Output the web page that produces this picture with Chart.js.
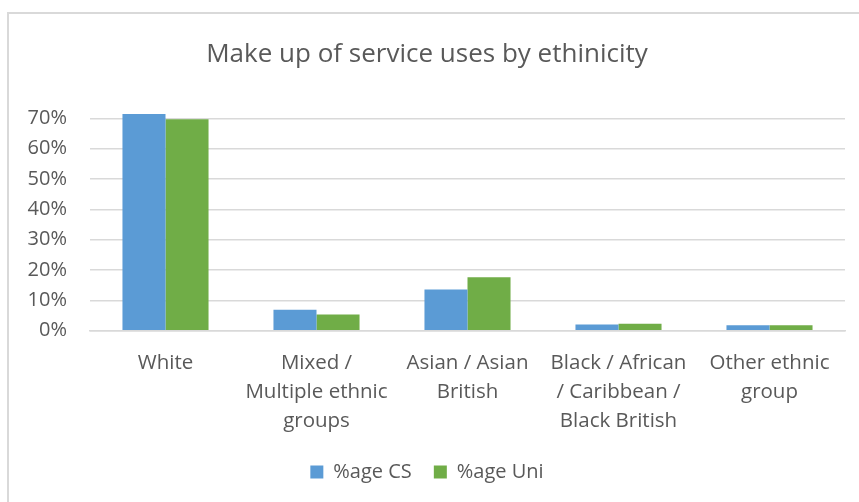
<!DOCTYPE html>
<html>
<head>
<meta charset="utf-8">
<script src="https://cdn.jsdelivr.net/npm/chart.js@4.4.1/dist/chart.umd.min.js"></script>
<style>
  body { margin: 0; background: #fff; }
  #box {
    position: absolute; left: 7px; top: 12px;
    width: 852px; height: 490px;
    border-left: 2px solid #d9d9d9; border-top: 2px solid #d9d9d9;
  }
</style>
</head>
<body>
<div id="box"><canvas id="chart" width="850" height="488"></canvas></div>
<script>
// ethnicity breakdown
var categories = [
  'White',
  ['Mixed /', 'Multiple ethnic', 'groups'],
  ['Asian / Asian', 'British'],
  ['Black / African', '/ Caribbean /', 'Black British'],
  ['Other ethnic', 'group']
];
var ageCS  = [71.4, 6.9, 13.6, 2.0, 1.8];
var ageUni = [69.7, 5.3, 17.6, 2.3, 1.8];
var yTicks = [0, 10, 20, 30, 40, 50, 60, 70];

var font = "'Open Sans', sans-serif";
var grey = '#595959';

new Chart(document.getElementById('chart'), {
  type: 'bar',
  data: {
    labels: categories,
    datasets: [
      { label: '%age CS', data: ageCS, backgroundColor: '#5b9bd5' },
      { label: '%age Uni', data: ageUni, backgroundColor: '#70ad47' }
    ]
  },
  options: {
    responsive: false,
    animation: false,
    layout: { padding: { left: 0, right: 14, top: 6, bottom: 10 } },
    datasets: { bar: { categoryPercentage: 0.57, barPercentage: 1 } },
    plugins: {
      title: {
        display: true,
        text: 'Make up of service uses by ethinicity',
        color: grey,
        font: { family: font, size: 26, weight: 'normal' },
        padding: { top: 19, bottom: 42 }
      },
      legend: {
        position: 'bottom',
        labels: {
          color: grey,
          font: { family: font, size: 20 },
          boxWidth: 13, boxHeight: 13,
          padding: 22
        }
      },
      tooltip: { enabled: false }
    },
    scales: {
      x: {
        grid: { display: false },
        border: { color: '#d9d9d9', width: 1.5 },
        afterFit: function (axis) { axis.height -= 6; },
        ticks: {
          color: grey,
          font: { family: font, size: 20.5, lineHeight: 1.42 },
          maxRotation: 0,
          autoSkip: false,
          padding: 10
        }
      },
      y: {
        min: 0, max: 72,
        afterBuildTicks: function (axis) {
          axis.ticks = yTicks.map(function (v) { return { value: v }; });
        },
        afterFit: function (axis) { axis.width = 81; },
        grid: { color: '#d9d9d9', lineWidth: 1.5, drawTicks: false },
        border: { display: false },
        ticks: {
          color: grey,
          font: { family: font, size: 20 },
          padding: 23,
          callback: function (v) { return v + '%'; }
        }
      }
    }
  }
});
</script>
</body>
</html>
